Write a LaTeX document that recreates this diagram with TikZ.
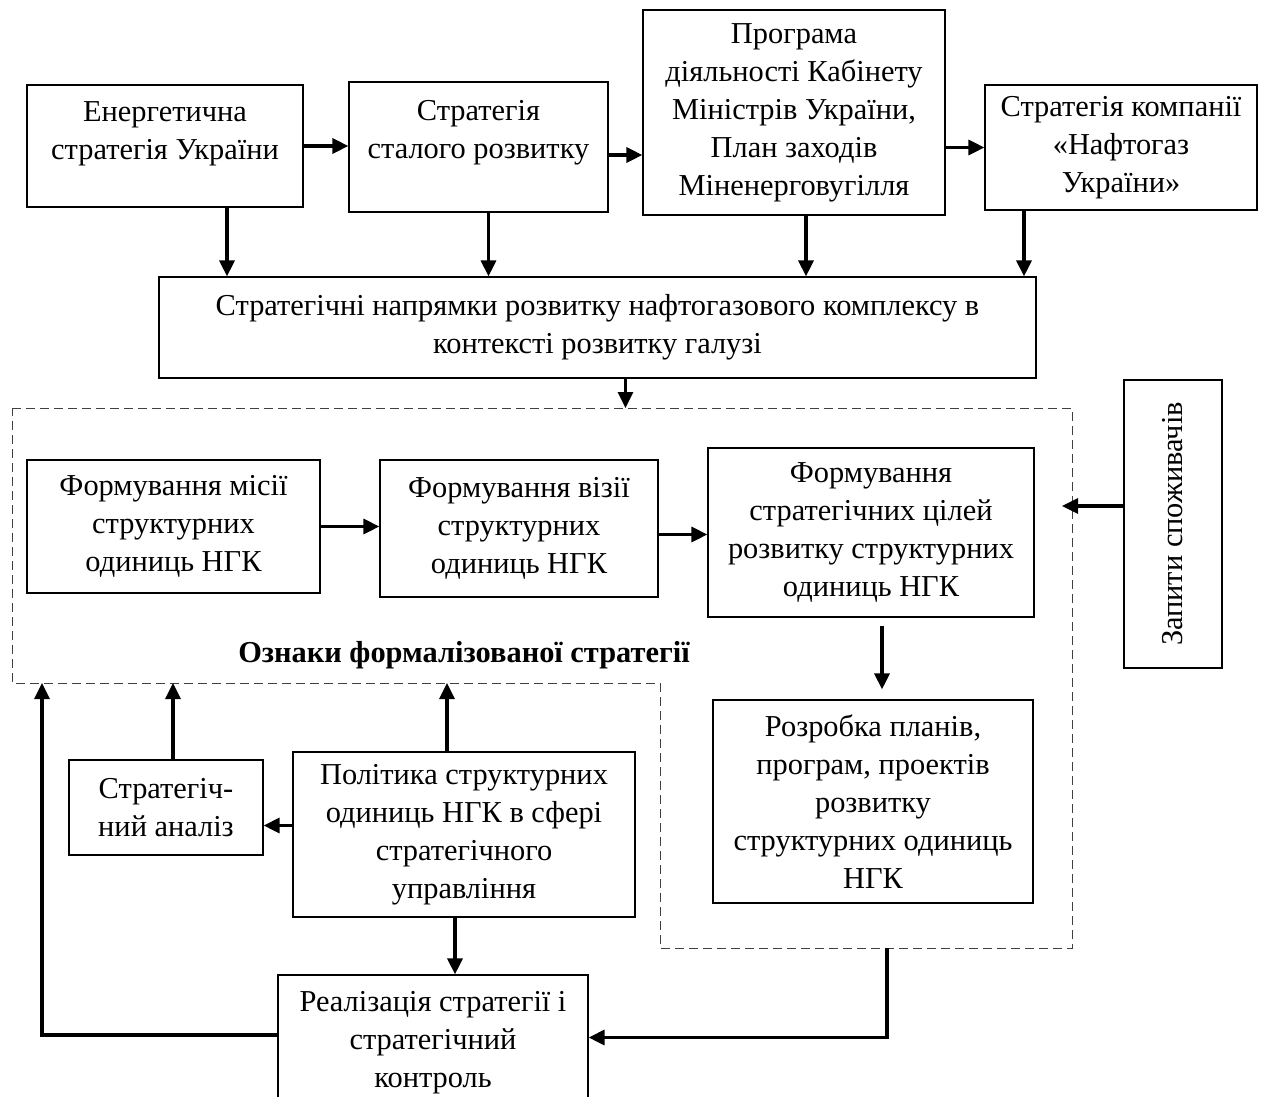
\documentclass[tikz,border=0pt]{standalone}
\usepackage{fontspec}
\setmainfont{Liberation Serif}
\usepackage{tikz}
\usetikzlibrary{calc}
\usetikzlibrary{arrows.meta}

\begin{document}
\begin{tikzpicture}[x=0.5pt,y=-0.5pt]
    \tikzstyle{block}=[draw,line width=0.6pt,align=center,inner sep=2pt,font=\fontsize{15.2}{19}\selectfont]
    \tikzstyle{arrow}=[-{Triangle[length=8pt,width=7.5pt]},line width=1.6pt]
    \tikzstyle{frame}=[dash pattern=on 4.5pt off 2.5pt,line width=0.5pt,color=black!75]
    \tikzstyle{caption}=[font=\fontsize{15.2}{19}\selectfont\bfseries]

    \useasboundingbox (0,0) rectangle (1274,1097);

    % Top row
    \node[style=block,minimum width=138pt,minimum height=61pt] (energy) at (165,146)
        {Енергетична\\стратегія України\\[-4pt]\mbox{}};
    \node[style=block,minimum width=129.5pt,minimum height=65pt] (sustain) at (478.5,147)
        {Стратегія\\сталого розвитку\\[-1pt]\mbox{}};
    \node[style=block,minimum width=151pt,minimum height=102.5pt] (program) at (794,112.5)
        {Програма\\діяльності Кабінету\\Міністрів України,\\План заходів\\Міненерговугілля};
    \node[style=block,minimum width=136pt,minimum height=62.5pt] (company) at (1121,147.5)
        {Стратегія компанії\\«Нафтогаз\\України»};
    \node[style=block,minimum width=438.5pt,minimum height=50.5pt] (directions) at (597.5,327.5)
        {Стратегічні напрямки розвитку нафтогазового комплексу в\\контексті розвитку галузі};

    % Dashed frame
    \coordinate (f1) at (12,408);
    \coordinate (f2) at (1072,408);
    \coordinate (f3) at (1072,948);
    \coordinate (f4) at (660,948);
    \coordinate (f5) at (660,683);
    \coordinate (f6) at (12,683);
    \draw[style=frame] (f1) -- (f2) -- (f3) -- (f4) -- (f5) -- (f6) -- cycle;

    % Inside the frame
    \node[style=block,minimum width=146.5pt,minimum height=66.5pt] (mission) at (173.5,526.5)
        {Формування місії\\структурних\\одиниць НГК};
    \node[style=block,minimum width=139pt,minimum height=68.5pt] (vision) at (519,528.5)
        {Формування візії\\структурних\\одиниць НГК};
    \node[style=block,minimum width=163pt,minimum height=84.5pt] (goals) at (871,532.5)
        {Формування\\стратегічних цілей\\розвитку структурних\\одиниць НГК};
    \node[style=block,minimum width=160pt,minimum height=101.5pt] (plans) at (873,801.5)
        {Розробка планів,\\програм, проектів\\розвитку\\структурних одиниць\\НГК};
    \node[style=caption] (signs) at (464,655) {Ознаки формалізованої стратегії};

    % Right
    \node[style=block,rotate=90,minimum width=144pt,minimum height=49pt] (requests) at (1173,524)
        {Запити споживачів};

    % Bottom
    \node[style=block,minimum width=97pt,minimum height=47.5pt] (analysis) at (166,807.5)
        {Стратегіч-\\ний аналіз};
    \node[style=block,minimum width=171pt,minimum height=82.5pt] (policy) at (464,834.5)
        {Політика структурних\\одиниць НГК в сфері\\стратегічного\\управління};
    \node[style=block,minimum width=155pt,minimum height=67.5pt] (realize) at (433,1042.5)
        {Реалізація стратегії і\\стратегічний\\контроль};

    \coordinate (loop) at (42,683);
    \coordinate (out) at (887,948);

    % Arrows, top row
    \draw[style=arrow] (energy.east) -- (energy.east -| sustain.west);
    \draw[style=arrow] ([yshift=-4pt]sustain.east) -- ([yshift=-4pt]sustain.east -| program.west);
    \draw[style=arrow] (program.east |- company.west) -- (company.west);

    \draw[style=arrow] ([xshift=31pt]energy.south) -- ([xshift=31pt]energy.south |- directions.north);
    \draw[style=arrow] ([xshift=5pt]sustain.south) -- ([xshift=5pt]sustain.south |- directions.north);
    \draw[style=arrow] ([xshift=6pt]program.south) -- ([xshift=6pt]program.south |- directions.north);
    \draw[style=arrow] ([xshift=-48.5pt]company.south) -- ([xshift=-48.5pt]company.south |- directions.north);
    \draw[style=arrow] ([xshift=14pt]directions.south) -- ([xshift=14pt]directions.south |- f1);

    % Arrows inside
    \draw[style=arrow] (mission.east) -- (mission.east -| vision.west);
    \draw[style=arrow] ([yshift=-3pt]vision.east) -- ([yshift=-3pt]vision.east -| goals.west);
    \draw[style=arrow,shorten <=4pt,shorten >=5pt] ([xshift=5.5pt]goals.south) -- ([xshift=5.5pt]goals.south |- plans.north);
    \draw[style=arrow,shorten >=-5pt] ([yshift=9pt]requests.north) -- ([yshift=9pt]requests.north -| f2);

    % Arrows below
    \draw[style=arrow] ([yshift=-9pt]analysis.east -| policy.west) -- ([yshift=-9pt]analysis.east);
    \draw[style=arrow] ([xshift=3.5pt]analysis.north) -- ([xshift=3.5pt]analysis.north |- f6);
    \draw[style=arrow] ([xshift=-8.5pt]policy.north) -- ([xshift=-8.5pt]policy.north |- f6);
    \draw[style=arrow] ([xshift=-4.5pt]policy.south) -- ([xshift=-4.5pt]policy.south |- realize.north);
    \draw[style=arrow] ([yshift=3.75pt]realize.west) -| (loop);
    \draw[style=arrow] (out) |- ([yshift=2.5pt]realize.east);

\end{tikzpicture}
\end{document}
